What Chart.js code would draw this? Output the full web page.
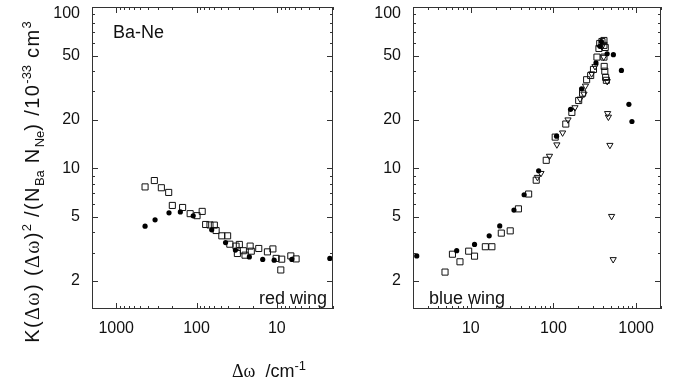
<!DOCTYPE html>
<html>
<head>
<meta charset="utf-8">
<script src="https://cdn.jsdelivr.net/npm/chart.js@4.4.1/dist/chart.umd.min.js"></script>
<style>
	html, body { margin: 0; padding: 0; background: #fff; }
	#wrap { position: relative; width: 680px; height: 388px; font-family: "Liberation Sans", Arial, sans-serif; color: #111; }
	canvas { position: absolute; top: 0; }
	.lbl { position: absolute; font-size: 18px; line-height: 18px; white-space: nowrap; }
	#ytitle { position: absolute; left: -168px; top: 171px; width: 400px; text-align: center; font-size: 20px; line-height: 22px; letter-spacing: 1.4px; transform: rotate(-90deg); white-space: nowrap; }
	#xtitle { position: absolute; left: 232px; top: 361px; font-size: 18px; line-height: 20px; white-space: nowrap; }
	sub, sup { font-size: 13px; line-height: 0; letter-spacing: 0; }
	.gr { font-family: "Liberation Serif", serif; }
</style>
</head>
<body>
<div id="wrap">
	<canvas id="redChart" width="345" height="388" style="left:0"></canvas>
	<canvas id="blueChart" width="335" height="388" style="left:345px"></canvas>
	<div class="lbl" style="left:113px; top:23px">Ba-Ne</div>
	<div class="lbl" style="left:259px; top:289px">red wing</div>
	<div class="lbl" style="left:429px; top:289px">blue wing</div>
	<div id="ytitle">K(<span class="gr">Δω</span>) (<span class="gr">Δω</span>)<sup>2</sup> /(N<sub>Ba</sub> N<sub>Ne</sub>) /10<sup>-33</sup> cm<sup>3</sup></div>
	<div id="xtitle"><span class="gr">Δω</span>&nbsp; /cm<sup>-1</sup></div>
</div>
<script>
// red wing (left panel), detuning in cm-1
const redCircX = [437, 328, 220, 159, 110, 64.7, 43.5, 32.8, 22, 15, 10.8, 6.5, 2.19];
const redCircY = [4.37, 4.79, 5.29, 5.36, 5.07, 4.15, 3.46, 3.11, 2.82, 2.72, 2.69, 2.72, 2.76];
const redSqX = [437, 335, 274, 222, 200, 149, 120, 98.5, 85, 77, 68, 60, 57, 48.4, 41, 38.5, 32.2, 29.3, 31, 26.1, 24.9, 21.5, 20.8, 16.8, 13.1, 11.2, 10.2, 8.7, 8.93, 6.7, 5.76];
const redSqY = [7.66, 8.39, 7.57, 7.08, 5.88, 5.71, 5.23, 5.08, 5.40, 4.48, 4.45, 4.44, 4.11, 3.81, 3.81, 3.38, 3.29, 3.37, 2.96, 3.08, 2.89, 3.29, 3.06, 3.18, 3.03, 3.16, 2.76, 2.73, 2.34, 2.86, 2.74];

// blue wing (right panel)
const blueCircX = [2.22, 6.75, 11.1, 16.7, 22.4, 33.3, 44.2, 66.2, 109, 161, 219, 327, 365, 380, 446, 531, 664, 818, 890];
const blueCircY = [2.86, 3.08, 3.37, 3.81, 4.39, 5.50, 6.85, 9.65, 15.8, 23.2, 31.1, 45.0, 57, 61, 51.3, 50.6, 40.4, 24.9, 19.5];
const blueSqX = [4.88, 6.0, 7.4, 9.43, 11.1, 15.0, 18.0, 23.4, 30.0, 37.7, 50.1, 61.9, 81.8, 105, 141, 167, 202, 225, 252, 282, 305, 336, 355, 363, 386, 408, 408, 423, 408, 411, 418, 428, 437];
const blueSqY = [2.27, 2.93, 2.63, 3.06, 2.85, 3.26, 3.26, 3.96, 4.09, 5.60, 6.92, 8.43, 11.2, 15.6, 18.8, 22.2, 26.3, 29.2, 35.4, 37.6, 41.0, 48.9, 55.3, 59.4, 61.1, 62, 57.8, 56.1, 48.9, 42.8, 40.0, 36.6, 35.1];
const blueTriX = [64, 70.6, 89.5, 110, 129, 150, 182, 210, 234, 244, 290, 318, 386, 405, 447, 452, 462, 482, 505, 528];
const blueTriY = [8.80, 9.31, 11.9, 14.0, 16.6, 20.0, 23.8, 26.9, 28.9, 32.4, 38.6, 42.8, 56.8, 48.9, 34.6, 21.9, 20.8, 13.9, 5.04, 2.72];

const xTickValues = [10, 100, 1000];
const yTickValues = [2, 5, 10, 20, 50, 100];

const zip = (xs, ys) => xs.map((x, i) => ({ x, y: ys[i] }));

const circleSet = (data) => ({
	data,
	pointStyle: 'circle',
	pointRadius: 2.6,
	backgroundColor: '#000',
	borderColor: '#000',
	borderWidth: 0,
});

const squareSet = (data) => ({
	data,
	pointStyle: 'rect',
	pointRadius: 4.3,
	backgroundColor: 'rgba(0,0,0,0)',
	borderColor: '#111',
	borderWidth: 1,
});

const triangleSet = (data) => ({
	data,
	pointStyle: 'triangle',
	rotation: 180,
	pointRadius: 3.6,
	backgroundColor: 'rgba(0,0,0,0)',
	borderColor: '#111',
	borderWidth: 1,
});

// frame plus inward log ticks on all four sides
const frameTicks = {
	id: 'frameTicks',
	afterDraw(chart) {
		const { ctx, chartArea: area, scales } = chart;
		const xs = scales.x;
		const ys = scales.y;
		ctx.save();
		ctx.strokeStyle = '#333';
		ctx.lineWidth = 1;
		ctx.strokeRect(area.left + 0.5, area.top + 0.5, area.width - 1, area.height - 1);
		ctx.beginPath();
		for (let d = 1; d <= 1000; d *= 10) {
			for (let m = 1; m <= 9; m += 1) {
				const v = d * m;
				if (v >= xs.min && v <= xs.max) {
					const px = Math.round(xs.getPixelForValue(v)) + 0.5;
					const len = xTickValues.includes(v) ? 6 : 3;
					ctx.moveTo(px, area.bottom);
					ctx.lineTo(px, area.bottom - len);
					ctx.moveTo(px, area.top);
					ctx.lineTo(px, area.top + len);
				}
				if (v >= ys.min && v <= ys.max) {
					const py = Math.round(ys.getPixelForValue(v)) + 0.5;
					const len = yTickValues.includes(v) ? 6 : 3;
					ctx.moveTo(area.left, py);
					ctx.lineTo(area.left + len, py);
					ctx.moveTo(area.right, py);
					ctx.lineTo(area.right - len, py);
				}
			}
		}
		ctx.stroke();
		ctx.restore();
	},
};

function makePanel(canvasId, datasets, opts) {
	const font = { family: '"Liberation Sans", Arial, sans-serif', size: 16, lineHeight: 0.8 };
	return new Chart(document.getElementById(canvasId), {
		type: 'scatter',
		data: { datasets },
		options: {
			responsive: false,
			animation: false,
			devicePixelRatio: 1,
			layout: { padding: { top: 7, right: opts.rightPad, left: 0, bottom: 0 } },
			plugins: { legend: { display: false }, tooltip: { enabled: false } },
			scales: {
				x: {
					type: 'logarithmic',
					min: 2,
					max: 2000,
					reverse: opts.reverse,
					grid: { display: false, drawTicks: false },
					border: { display: false },
					afterBuildTicks: (scale) => { scale.ticks = xTickValues.map((value) => ({ value })); },
					afterFit: (scale) => {
						scale.height = 79;
						scale.paddingLeft = 0;
						scale.paddingRight = 0;
					},
					ticks: { color: '#111', font: { ...font, lineHeight: 1.2 }, padding: 10, autoSkip: false, maxRotation: 0, callback: (v) => String(v) },
				},
				y: {
					type: 'logarithmic',
					min: 1.34,
					max: 100,
					grid: { display: false, drawTicks: false },
					border: { display: false },
					afterBuildTicks: (scale) => { scale.ticks = yTickValues.map((value) => ({ value })); },
					afterFit: (scale) => {
						scale.width = opts.yWidth;
						scale.paddingTop = 0;
						scale.paddingBottom = 0;
					},
					// top label sits a little below the frame corner, as in the original
					ticks: { color: '#111', font, padding: 12, autoSkip: false, callback: (v) => (v === 100 ? ['', '100'] : String(v)) },
				},
			},
		},
		plugins: [frameTicks],
	});
}

makePanel('redChart', [
	circleSet(zip(redCircX, redCircY)),
	squareSet(zip(redSqX, redSqY)),
], { reverse: true, rightPad: 12, yWidth: 92 });

makePanel('blueChart', [
	circleSet(zip(blueCircX, blueCircY)),
	squareSet(zip(blueSqX, blueSqY)),
	triangleSet(zip(blueTriX, blueTriY)),
], { reverse: false, rightPad: 19, yWidth: 68 });
</script>
</body>
</html>
